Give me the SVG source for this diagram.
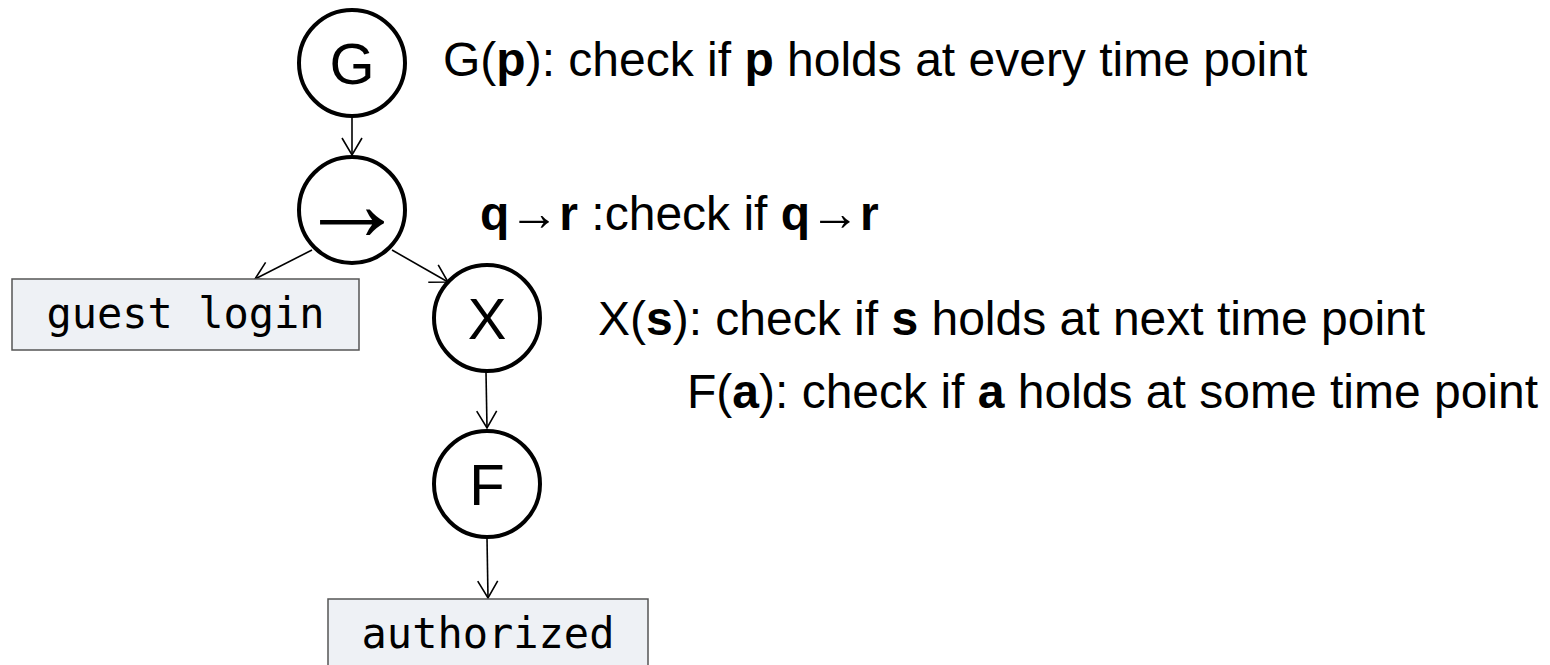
<svg xmlns="http://www.w3.org/2000/svg" width="1550" height="665" viewBox="0 0 1550 665">
<defs>
<marker id="vee" markerUnits="userSpaceOnUse" markerWidth="24" markerHeight="24" viewBox="-20 -12 24 24" refX="0" refY="0" orient="auto">
<path d="M-17,-10 L0,0 L-17,10" fill="none" stroke="#000" stroke-width="1.6"/>
</marker>
</defs>
<style>
.op{fill:#fff;stroke:#000;stroke-width:4}
.opt{font-family:"Liberation Sans",Arial,sans-serif;font-size:58px;text-anchor:middle;fill:#000}
.box{fill:#eef1f5;stroke:#555;stroke-width:1.5}
.mono{font-family:"DejaVu Sans Mono",monospace;font-size:42px;text-anchor:middle;fill:#000}
.edge{fill:none;stroke:#000;stroke-width:1.6;marker-end:url(#vee)}
.note{font-family:"Liberation Sans",Arial,sans-serif;font-size:48px;fill:#000}
.b{font-weight:bold}
.ar{font-size:50px;font-weight:normal}
</style>
<rect width="1550" height="665" fill="#fff"/>
<g id="connectors">
<path class="edge" d="M352,117 L352,155"/>
<path class="edge" d="M312,250 L255,279"/>
<path class="edge" d="M392,250 L448,282"/>
<path class="edge" d="M486,372 L487,428"/>
<path class="edge" d="M487,538 L488,598"/>
</g>
<g id="node-G">
<circle class="op" cx="352" cy="63" r="53"/>
<text class="opt" x="352" y="84">G</text>
</g>
<g id="node-implies">
<circle class="op" cx="352" cy="210" r="53"/>
<text class="opt" x="352" y="240" style="font-size:108px">→</text>
</g>
<g id="node-guest">
<rect class="box" x="12" y="279" width="347" height="71"/>
<text class="mono" x="185.5" y="328">guest login</text>
</g>
<g id="node-X">
<circle class="op" cx="487" cy="318" r="53"/>
<text class="opt" x="487" y="339">X</text>
</g>
<g id="node-F">
<circle class="op" cx="487" cy="484" r="53"/>
<text class="opt" x="487" y="505">F</text>
</g>
<g id="node-authorized">
<rect class="box" x="328" y="599" width="320" height="71"/>
<text class="mono" x="488" y="648">authorized</text>
</g>
<g id="notes">
<text class="note" x="443" y="76">G(<tspan class="b">p</tspan>): check if <tspan class="b">p</tspan> holds at every time point</text>
<text class="note" x="480" y="230"><tspan class="b">q</tspan><tspan class="ar">→</tspan><tspan class="b">r</tspan> :check if <tspan class="b">q</tspan><tspan class="ar">→</tspan><tspan class="b">r</tspan></text>
<text class="note" x="598" y="335">X(<tspan class="b">s</tspan>): check if <tspan class="b">s</tspan> holds at next time point</text>
<text class="note" x="687" y="408">F(<tspan class="b">a</tspan>): check if <tspan class="b">a</tspan> holds at some time point</text>
</g>
</svg>
